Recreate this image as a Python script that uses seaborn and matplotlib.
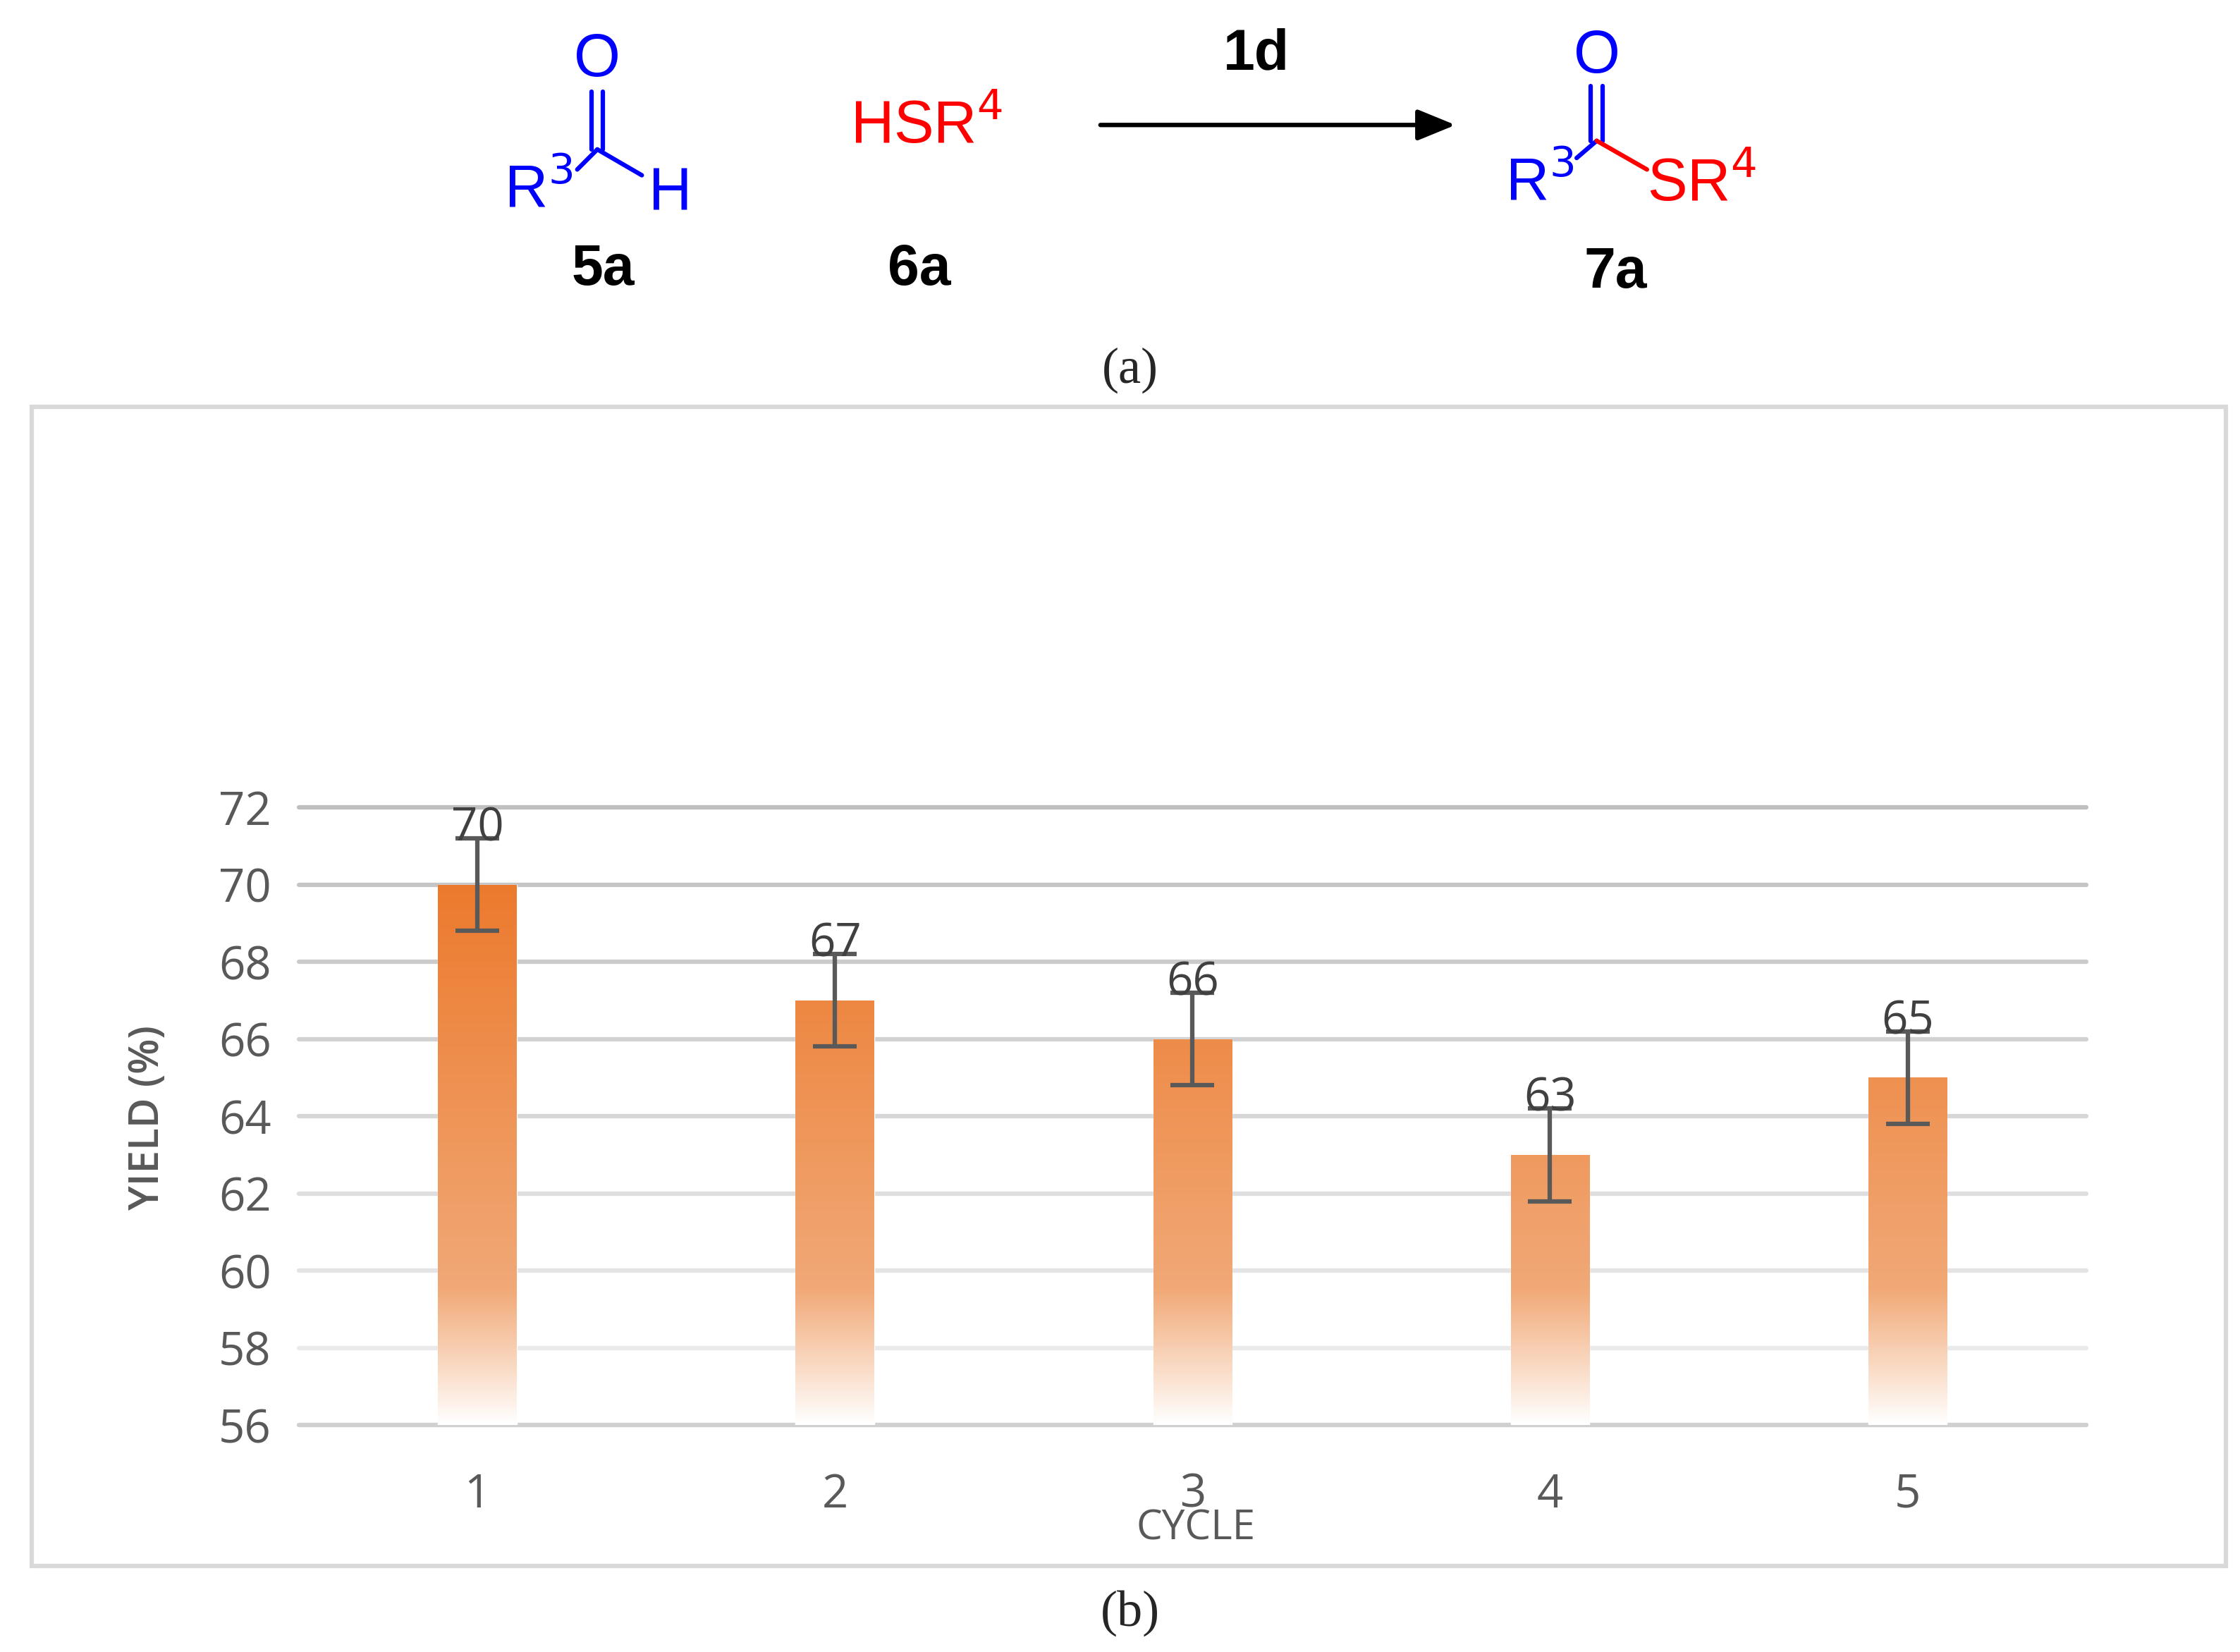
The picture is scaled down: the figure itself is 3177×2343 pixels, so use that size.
import numpy as np
import pandas as pd
import matplotlib
matplotlib.use("Agg")
import matplotlib.pyplot as plt
import seaborn as sns
from matplotlib.lines import Line2D
from matplotlib.patches import Rectangle, FancyArrowPatch
from matplotlib.colors import LinearSegmentedColormap

cycles = ["1", "2", "3", "4", "5"]
yields = [70, 67, 66, 63, 65]
errors = [1.2, 1.2, 1.2, 1.2, 1.2]
yticks = [56, 58, 60, 62, 64, 66, 68, 70, 72]

sns.set_theme(style="white")
plt.rcParams['font.family'] = ['Liberation Sans', 'DejaVu Sans']

W, H = 1560.0, 1150.0
fig = plt.figure(figsize=(31.77, 23.43), dpi=100)

def P(x, y):
    return (x / W, 1 - y / H)

def line(x0, y0, x1, y1, c, lw=4.5):
    a, b = P(x0, y0); c2, d = P(x1, y1)
    fig.add_artist(Line2D([a, c2], [b, d], color=c, lw=lw, transform=fig.transFigure))

def txt(x, y, s, c="black", size=61, **kw):
    fig.text(*P(x, y), s, color=c, fontsize=size, ha="center", va="center", **kw)

blue, red = "#0000FF", "#FF0000"
# 5a
txt(416, 42, "O", blue)
line(412, 64, 412, 104, blue); line(420, 64, 420, 104, blue)
line(416, 104, 402, 118, blue); line(416, 104, 447, 122, blue)
txt(375, 133, r"R$^{3}$", blue)
txt(467, 135, "H", blue)
txt(420, 188, "5a", size=58, weight="bold")
# 6a
txt(645, 88, r"HSR$^{4}$", red)
txt(640, 188, "6a", size=58, weight="bold")
# arrow
fig.add_artist(FancyArrowPatch(P(765, 87), P(1015, 87), transform=fig.transFigure,
                               arrowstyle="-|>,head_length=2.2,head_width=0.9",
                               color="black", lw=4.5, mutation_scale=15))
txt(875, 38, "1d", size=58, weight="bold")
# 7a
txt(1112, 40, "O", blue)
line(1108, 60, 1108, 98, blue); line(1116, 60, 1116, 98, blue)
line(1112, 98, 1098, 110, blue); line(1112, 98, 1147, 118, red)
txt(1072, 128, r"R$^{3}$", blue)
txt(1185, 128, r"SR$^{4}$", red)
txt(1125, 190, "7a", size=58, weight="bold")
# captions
fig.text(*P(787, 258), "(a)", fontsize=52, ha="center", va="center", family="Liberation Serif")
fig.text(*P(787, 1123), "(b)", fontsize=52, ha="center", va="center", family="Liberation Serif")

# chart box
x0, y0 = P(22, 1090); x1, y1 = P(1550, 283)
fig.add_artist(Rectangle((x0, y0), x1 - x0, y1 - y0, transform=fig.transFigure,
                         fill=False, edgecolor="#D9D9D9", lw=4.5))

ax0, ay0 = P(208, 992); ax1, ay1 = P(1453, 562)
ax = fig.add_axes([ax0, ay0, ax1 - ax0, ay1 - ay0])
df = pd.DataFrame({"cycle": cycles, "yield": yields})
sns.barplot(data=df, x="cycle", y="yield", ax=ax, width=0.22, color="#ED7D31", zorder=3)
ax.set_xlim(-0.5, 4.5)
ax.set_ylim(56, 72)
for sp in ax.spines.values():
    sp.set_visible(False)

for v in yticks:
    t = (v - 56) / 16
    g = 0.94 - 0.19 * t
    ax.axhline(v, color=(g, g, g), lw=4.5, zorder=1, clip_on=False)
ax.axhline(56, color="#D0D0D0", lw=4.5, zorder=1, clip_on=False)

cmap = LinearSegmentedColormap.from_list("g", [(0, "#FFFFFF"), (0.08, "#FBE3D2"),
                                               (0.25, "#F1A977"), (1.0, "#EC7A2D")])
for patch in ax.patches:
    px, pw, ph = patch.get_x(), patch.get_width(), patch.get_height()
    patch.set_facecolor("none")
    top = 56 + ph if patch.get_y() >= 56 else ph
    vals = np.linspace(56, top, 256).reshape(-1, 1)
    im = ax.imshow((vals - 56) / 14.0, cmap=cmap, vmin=0, vmax=1, origin="lower",
                   extent=[px, px + pw, 56, top], aspect="auto", zorder=3)
    im.set_clip_path(patch)

ax.errorbar(range(len(cycles)), yields, yerr=errors, fmt="none", ecolor="#595959",
            elinewidth=4.5, capsize=22, capthick=4.5, zorder=5)
for i, v in enumerate(yields):
    ax.text(i, v + 1.44, str(v), ha="center", va="center", fontsize=47,
            color="#404040", family="Open Sans", zorder=6)

ax.set_yticks(yticks)
ax.set_yticklabels([str(v) for v in yticks], fontsize=47, color="#595959", family="Open Sans")
ax.tick_params(axis="y", length=0, pad=28)
ax.tick_params(axis="x", length=0, pad=48)
ax.set_xticks(range(len(cycles)))
ax.set_xticklabels(cycles, fontsize=47, color="#595959", family="Open Sans")
ax.set_xlabel("")
ax.set_ylabel("")
fig.text(*P(103, 778), "YIELD (%)", rotation=90, fontsize=42, color="#595959",
         ha="center", va="center", family="Open Sans", weight="semibold")
fig.text(*P(833, 1064), "CYCLE", fontsize=42, color="#595959", ha="center", va="center",
         family="Open Sans")
ax.set_zorder(2)

fig.savefig("out.png", dpi=100, facecolor="white")
